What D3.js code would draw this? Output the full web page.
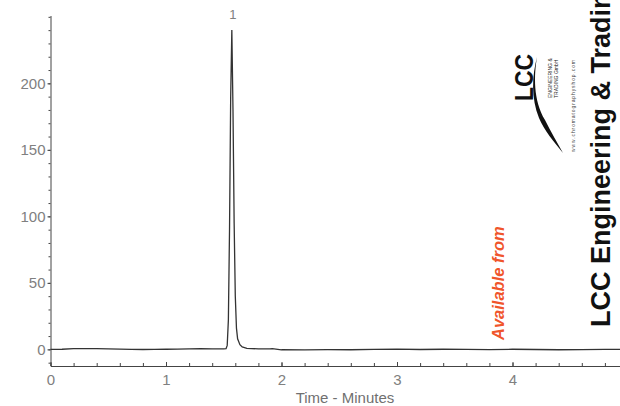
<!DOCTYPE html>
<html>
<head>
<meta charset="utf-8">
<script src="https://cdn.jsdelivr.net/npm/d3@7"></script>
<style>
  body { margin: 0; background: #fff; }
  svg { display: block; font-family: "Liberation Sans", Arial, sans-serif; }
  .axis path, .axis line { stroke: #444; }
  .axis text { fill: #808080; font-size: 15px; }
</style>
</head>
<body>
<div id="chart"></div>
<script>
// chromatogram trace, time in minutes, response
var times = [0, 0.1, 0.2, 0.3, 0.4, 0.5, 0.6, 0.7, 0.8, 0.9, 1.0, 1.1, 1.2, 1.3, 1.4, 1.5,
  1.52, 1.53, 1.54, 1.55, 1.56, 1.57, 1.58, 1.59, 1.60, 1.61, 1.62, 1.64, 1.66, 1.70,
  1.8, 1.9, 1.92, 2.0, 2.2, 2.4, 2.6, 2.8, 3.0, 3.2, 3.4, 3.6, 3.8, 4.0, 4.2, 4.4, 4.6, 4.8, 5.0];
var signal = [0.0, 0.1, 0.6, 0.5, 0.6, 0.4, 0.2, 0.0, -0.1, 0.0, 0.1, 0.2, 0.3, 0.5, 0.3, 0.4,
  0.5, 3, 22, 90, 190, 240, 180, 95, 40, 16, 8, 3.5, 1.8, 0.8,
  0.4, 0.3, 0.5, -0.3, -0.4, -0.2, -0.3, 0.0, 0.2, -0.1, 0.1, 0.0, -0.2, 0.1, -0.1, -0.3, -0.2, 0.0, -0.1];

var yTicks = [0, 50, 100, 150, 200];
var xTicks = [0, 1, 2, 3, 4];
var peakLabels = [{t: 1.57, v: 240, name: "1"}];

var width = 620, height = 406;

var svg = d3.select("#chart").append("svg")
  .attr("width", width)
  .attr("height", height);

var x = d3.scaleLinear().domain([0, 5]).range([50.5, 628]);
var y = d3.scaleLinear().domain([-12.5, 251]).range([366, 15.5]);

// y axis, minor ticks every 10
svg.append("g")
  .attr("class", "axis")
  .attr("transform", "translate(50.5,0)")
  .call(d3.axisLeft(y).tickValues(d3.range(-10, 251, 10)).tickSizeInner(2).tickSizeOuter(0).tickFormat(""));

svg.append("g")
  .attr("class", "axis")
  .attr("transform", "translate(50.5,0)")
  .call(d3.axisLeft(y).tickValues(yTicks).tickSizeInner(3).tickSizeOuter(0).tickPadding(2))
  .select(".domain").remove();

// x axis, minor ticks every 0.2, ticks pointing in
svg.append("g")
  .attr("class", "axis")
  .attr("transform", "translate(0,366)")
  .call(d3.axisBottom(x).tickValues(d3.range(0, 5.01, 0.2)).tickSizeInner(-3).tickSizeOuter(0).tickFormat(""));

svg.append("g")
  .attr("class", "axis")
  .attr("transform", "translate(0,366)")
  .call(d3.axisBottom(x).tickValues(xTicks).tickSizeInner(-4).tickSizeOuter(0).tickPadding(8).tickFormat(d3.format("d")))
  .select(".domain").remove();

svg.append("text")
  .attr("x", 345)
  .attr("y", 403)
  .attr("text-anchor", "middle")
  .style("font-size", "15px")
  .style("fill", "#707070")
  .text("Time - Minutes");

// the trace
var line = d3.line()
  .x(function(d, i) { return x(times[i]); })
  .y(function(d) { return y(d); });

svg.append("path")
  .datum(signal)
  .attr("d", line)
  .style("fill", "none")
  .style("stroke", "#333")
  .style("stroke-width", "1.3px");

svg.selectAll("text.peak")
  .data(peakLabels)
  .enter()
  .append("text")
  .attr("class", "peak")
  .attr("x", d => x(d.t) + 1)
  .attr("y", d => y(d.v) - 11)
  .attr("text-anchor", "middle")
  .style("font-size", "13px")
  .style("fill", "#808080")
  .text(d => d.name);

// supplier stamp on the right
svg.append("text")
  .attr("transform", "translate(504,340) rotate(-90)")
  .style("font-size", "16.5px")
  .style("font-weight", "bold")
  .style("font-style", "italic")
  .style("fill", "#f0552b")
  .text("Available from");

svg.append("text")
  .attr("transform", "translate(610,327) rotate(-90)")
  .style("font-size", "27px")
  .style("font-weight", "bold")
  .style("fill", "#111")
  .text("LCC Engineering & Trading");

// logo
var logo = svg.append("g");
logo.append("text")
  .attr("transform", "translate(533,101) rotate(-90)")
  .attr("textLength", 47)
  .attr("lengthAdjust", "spacingAndGlyphs")
  .style("font-size", "25px")
  .style("font-weight", "bold")
  .style("fill", "#111")
  .text("LCC");
logo.append("text")
  .attr("transform", "translate(552,98) rotate(-90)")
  .style("font-size", "5px")
  .style("fill", "#222")
  .text("ENGINEERING &");
logo.append("text")
  .attr("transform", "translate(558,98) rotate(-90)")
  .style("font-size", "5px")
  .style("fill", "#222")
  .text("TRADING GmbH");
logo.append("text")
  .attr("transform", "translate(575,152) rotate(-90)")
  .attr("textLength", 92)
  .style("font-size", "5px")
  .style("fill", "#444")
  .text("www.chromatographyshop.com");
logo.append("path")
  .attr("d", "M537,57 C534,75 533,100 545,120 C551,132 557,142 563,153 C554,142 544,130 539,118 C531,98 532,76 537,57 Z")
  .style("fill", "#111");
</script>
</body>
</html>
